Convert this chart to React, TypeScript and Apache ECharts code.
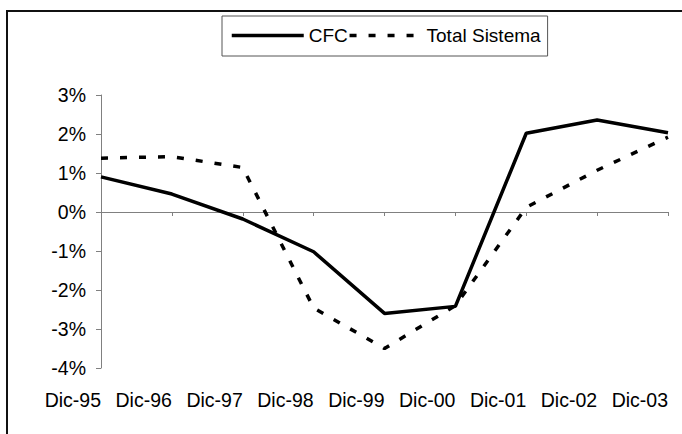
import React, { useEffect, useRef } from "react";
import * as echarts from "echarts";

const categories = ["Dic-95", "Dic-96", "Dic-97", "Dic-98", "Dic-99", "Dic-00", "Dic-01", "Dic-02", "Dic-03"];
const cfc = [0.9, 0.46, -0.18, -1.02, -2.6, -2.42, 2.02, 2.36, 2.03];
const totalSistema = [1.38, 1.42, 1.14, -2.46, -3.5, -2.4, 0.12, 1.07, 1.92];
const seriesNames = ["CFC", "Total Sistema"];

const FONT = "'Liberation Sans', Arial, sans-serif";

export default function App() {
  const ref = useRef<HTMLDivElement>(null);
  useEffect(() => {
    if (!ref.current) return;
    const chart = echarts.init(ref.current, undefined, { renderer: "svg" });
    chart.setOption({
      animation: false,
      backgroundColor: "#ffffff",
      textStyle: { fontFamily: FONT, color: "#000" },
      graphic: [
        {
          type: "polyline",
          shape: { points: [[7, 440], [7, 11], [690, 11]] },
          style: { fill: "none", stroke: "#111", lineWidth: 2 },
          silent: true,
          z: 100,
        },
      ],
      legend: {
        left: 222,
        top: 16,
        padding: [10, 7, 11, 8],
        borderColor: "#555",
        borderWidth: 1,
        itemWidth: 72,
        itemHeight: 14,
        itemGap: 0,
        itemStyle: { opacity: 0 },
        lineStyle: { width: 3.5 },
        textStyle: { fontSize: 19, color: "#000", fontFamily: FONT },
        data: seriesNames,
      },
      grid: { left: 101, right: 14, top: 95, bottom: 66 },
      xAxis: [
        {
          type: "category",
          data: categories,
          boundaryGap: false,
          position: "bottom",
          axisLine: { show: true, onZero: true, lineStyle: { color: "#808080", width: 1 } },
          axisTick: { show: true, length: 4, lineStyle: { color: "#808080" } },
          axisLabel: { show: false },
          splitLine: { show: false },
        },
        {
          type: "category",
          data: categories,
          boundaryGap: false,
          position: "bottom",
          axisLine: { show: false, onZero: false },
          axisTick: { show: false },
          axisLabel: {
            show: true,
            interval: 0,
            align: "right",
            margin: 22,
            fontSize: 19.5,
            color: "#000",
            fontFamily: FONT,
          },
          splitLine: { show: false },
        },
      ],
      yAxis: {
        type: "value",
        min: -4,
        max: 3,
        interval: 1,
        axisLine: { show: true, lineStyle: { color: "#808080", width: 1 } },
        axisTick: { show: true, length: 5, lineStyle: { color: "#808080" } },
        axisLabel: {
          formatter: "{value}%",
          fontSize: 19.5,
          color: "#000",
          margin: 15,
          fontFamily: FONT,
        },
        splitLine: { show: false },
      },
      series: [
        {
          name: seriesNames[0],
          type: "line",
          xAxisIndex: 0,
          data: cfc,
          symbol: "none",
          lineStyle: { color: "#000", width: 3.5, type: "solid" },
          itemStyle: { color: "#000" },
        },
        {
          name: seriesNames[1],
          type: "line",
          xAxisIndex: 0,
          data: totalSistema,
          symbol: "none",
          lineStyle: { color: "#000", width: 3.5, type: [7, 12] },
          itemStyle: { color: "#000" },
        },
      ],
    });
    return () => chart.dispose();
  }, []);
  return (
    <div
      ref={ref}
      style={{ position: "absolute", left: 0, top: 0, width: 682, height: 434 }}
    />
  );
}
